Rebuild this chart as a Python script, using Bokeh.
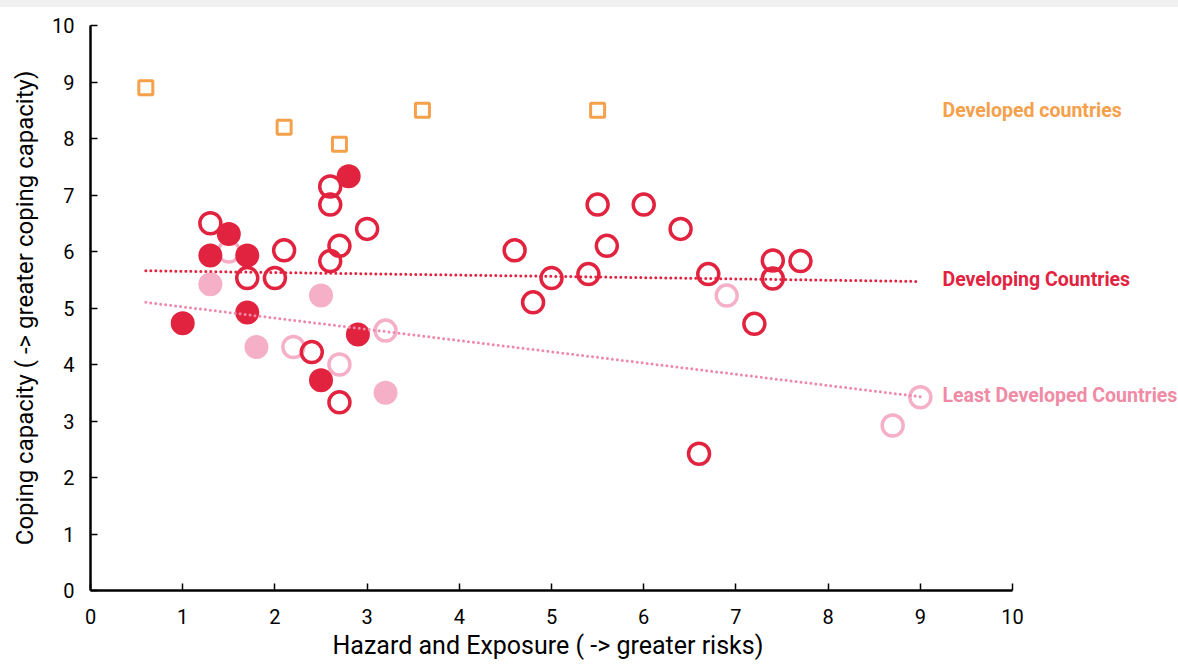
from bokeh.plotting import figure
from bokeh.models import Label, Range1d, FixedTicker, Div, Title
from bokeh.layouts import column
from bokeh.embed import file_html
from bokeh.resources import INLINE

# Developed countries (orange squares)
dev_x = [0.6, 2.1, 2.7, 3.6, 5.5]
dev_y = [8.9, 8.2, 7.9, 8.5, 8.5]

# Developing countries, open circles
dvg_open_x = [1.3, 2.6, 2.6, 3.0, 2.7, 2.1, 2.6, 1.7, 2.0, 2.4, 2.7,
              5.5, 6.0, 6.4, 4.6, 5.6, 5.0, 5.4, 4.8, 6.7, 7.4, 7.4, 7.7, 7.2, 6.6]
dvg_open_y = [6.5, 7.15, 6.83, 6.4, 6.1, 6.02, 5.83, 5.53, 5.53, 4.22, 3.33,
              6.83, 6.83, 6.4, 6.02, 6.1, 5.53, 5.6, 5.1, 5.6, 5.84, 5.52, 5.83, 4.72, 2.42]

# Developing countries, filled circles
dvg_fill_x = [2.8, 1.5, 1.3, 1.7, 1.0, 1.7, 2.9, 2.5]
dvg_fill_y = [7.33, 6.31, 5.93, 5.93, 4.73, 4.92, 4.53, 3.72]

# Least developed countries, open circles
ldc_open_x = [1.5, 2.2, 3.2, 2.7, 6.9, 9.0, 8.7]
ldc_open_y = [6.0, 4.31, 4.6, 4.0, 5.22, 3.42, 2.92]

# Least developed countries, filled circles
ldc_fill_x = [1.3, 2.5, 1.8, 3.2]
ldc_fill_y = [5.42, 5.22, 4.31, 3.5]

# Trend lines (end points)
dvg_trend_x = [0.6, 9.0]
dvg_trend_y = [5.66, 5.47]
ldc_trend_x = [0.6, 9.0]
ldc_trend_y = [5.1, 3.43]

ticks = [0, 1, 2, 3, 4, 5, 6, 7, 8, 9, 10]

RED = "#E2233F"
PINK = "#F5B0C8"
PINK_TXT = "#F08AA5"
ORANGE = "#F5A04A"
FONT = "Roboto"

band = Div(width=1178, height=7, margin=0, styles={"background-color": "#f1f1f1"})

p = figure(width=1178, height=657, output_backend="svg", toolbar_location=None,
           x_range=Range1d(0, 11.8), y_range=Range1d(0, 10),
           min_border_left=90, min_border_right=0, min_border_top=18, min_border_bottom=74)
p.outline_line_color = None
p.xgrid.visible = False
p.ygrid.visible = False

for ax in (p.xaxis[0], p.yaxis[0]):
    ax.ticker = FixedTicker(ticks=ticks)
    ax.axis_line_color = "black"
    ax.axis_line_width = 2.5
    ax.major_tick_in = 7
    ax.major_tick_out = 0
    ax.major_tick_line_color = "black"
    ax.major_tick_line_width = 1.5
    ax.minor_tick_line_color = None
    ax.major_label_text_font = FONT
    ax.major_label_text_font_size = "20px"
    ax.major_label_text_color = "black"
    ax.axis_label_text_font = FONT
    ax.axis_label_text_font_size = "24px"
    ax.axis_label_text_font_style = "normal"
    ax.axis_label_text_color = "black"

p.xaxis.bounds = (0, 10)
p.yaxis.axis_label = "Coping capacity ( -> greater coping capacity)"
p.xaxis.major_label_standoff = 18
p.yaxis.major_label_standoff = 16
p.yaxis.axis_label_standoff = 10

xtitle = Title(text="Hazard and Exposure (  -> greater risks)", align="left", offset=242,
               standoff=4, text_font=FONT, text_font_size="25px",
               text_font_style="normal", text_color="black")
p.add_layout(xtitle, "below")

p.scatter(ldc_open_x, ldc_open_y, marker="circle", size=21, fill_color=None,
          line_color=PINK, line_width=3.5)
p.scatter(dvg_open_x, dvg_open_y, marker="circle", size=21, fill_color=None,
          line_color=RED, line_width=3.5)
p.scatter(ldc_fill_x, ldc_fill_y, marker="circle", size=24, fill_color=PINK,
          line_color=None)
p.scatter(dvg_fill_x, dvg_fill_y, marker="circle", size=24, fill_color=RED,
          line_color=None)
p.scatter(dev_x, dev_y, marker="square", size=14, fill_color=None,
          line_color=ORANGE, line_width=3)

p.line(dvg_trend_x, dvg_trend_y, line_color=RED, line_width=3, line_dash="0 5",
       line_cap="round")
p.line(ldc_trend_x, ldc_trend_y, line_color="#EE8AA8", line_width=3, line_dash="0 5",
       line_cap="round")

for txt, yv, col in [("Developed countries", 8.5, ORANGE),
                     ("Developing Countries", 5.5, RED),
                     ("Least Developed Countries", 3.45, PINK_TXT)]:
    p.add_layout(Label(x=9.24, y=yv, text=txt, text_color=col,
                       text_font=FONT, text_font_style="bold",
                       text_font_size="19.5px", text_baseline="middle", text_align="left"))

layout = column(band, p, spacing=0)
open("out.html", "w").write(file_html(layout, INLINE))
